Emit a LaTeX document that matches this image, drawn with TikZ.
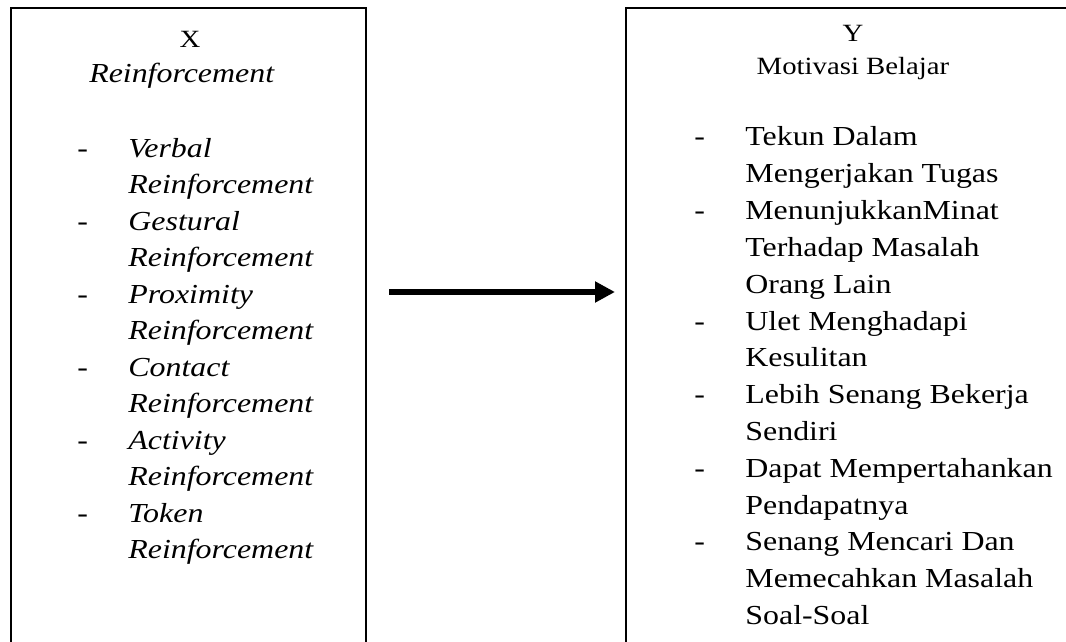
\documentclass[tikz,border=0pt]{standalone}
\usepackage{fontspec}
\setmainfont{Liberation Serif}[FakeStretch=1.16]
\usetikzlibrary{positioning,arrows.meta}
\tikzset{
  frame/.style={draw=black,line width=1pt,anchor=north west,inner sep=0pt},
  head/.style={inner sep=0pt,anchor=base,font=\fontsize{12.4}{14}\selectfont},
  item/.style={inner sep=0pt,anchor=base west,font=\fontsize{13.75}{16}\selectfont},
  flow/.style={-{Triangle[length=10pt,width=10pt]},line width=3.3pt}
}
\newcommand{\itemdash}[1]{\makebox[25.5pt][l]{#1}}

\begin{document}
\begin{tikzpicture}[x=0.5pt,y=-0.5pt]
  \useasboundingbox (0,0) rectangle (1066,642);
  \clip (0,0) rectangle (1066,642);
  % the two frames (cut off at the page edges)
  \node[frame,minimum width=177.5pt,minimum height=340pt] (xbox) at (10,7) {};
  \node[frame,minimum width=240pt,minimum height=340pt] (ybox) at (625,7) {};
  % headings
  \node[head] (xname) at (190,48) {X};
  \node[item,anchor=base] (xtitle) at (182,83) {\textit{Reinforcement}};
  \node[head] (yname) at (853,42) {Y};
  \node[head] (ytitle) at (853,75) {Motivasi Belajar};
  % indicators
  \foreach \dsh/\txt [count=\i] in {-/Verbal, /Reinforcement, -/Gestural, /Reinforcement,
      -/Proximity, /Reinforcement, -/Contact, /Reinforcement,
      -/Activity, /Reinforcement, -/Token, /Reinforcement}
    \node[item] (x\i) at (77,{157+(\i-1)*36.5}) {\itemdash{\dsh}\textit{\txt}};
  \foreach \dsh/\txt [count=\i] in {-/Tekun Dalam, /Mengerjakan Tugas,
      -/MenunjukkanMinat, /Terhadap Masalah, /Orang Lain,
      -/Ulet Menghadapi, /Kesulitan, -/Lebih Senang Bekerja, /Sendiri,
      -/Dapat Mempertahankan, /Pendapatnya,
      -/Senang Mencari Dan, /Memecahkan Masalah, /Soal-Soal}
    \node[item] (y\i) at (694,{146+(\i-1)*36.8}) {\itemdash{\dsh}\txt};
  \draw[flow] ([xshift=11pt]xbox.east |- 0,292) -- ([xshift=-5pt]ybox.west |- 0,292);
\end{tikzpicture}
\end{document}
